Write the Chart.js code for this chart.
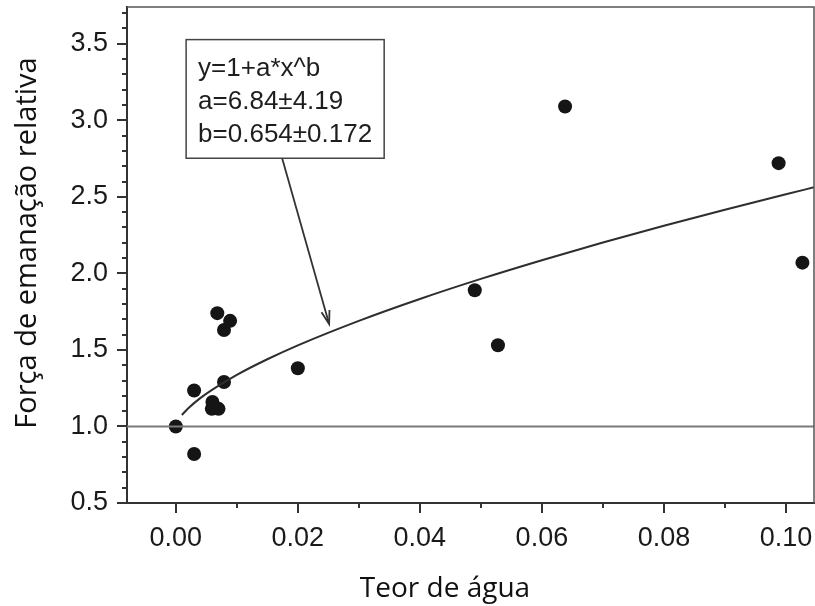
<!DOCTYPE html>
<html lang="pt">
  <head>
    <meta charset="UTF-8" />
    <title>Força de emanação relativa vs teor de água</title>
    <script src="https://cdn.jsdelivr.net/npm/chart.js"></script>
    <style>
      html, body { margin: 0; padding: 0; background: #ffffff; }
      #wrap { width: 815px; height: 606px; }
    </style>
  </head>
  <body>
    <div id="wrap"><canvas id="emanationChart" width="815" height="606"></canvas></div>

    <script>
      // measured points
      const waterContent = [0, 0.003, 0.003, 0.0059, 0.006, 0.0068, 0.007, 0.0079, 0.0079, 0.0089, 0.020, 0.049, 0.0528, 0.0638, 0.0988, 0.1027];
      const emanationPower = [1.00, 0.82, 1.235, 1.115, 1.16, 1.74, 1.115, 1.29, 1.63, 1.69, 1.38, 1.89, 1.53, 3.09, 2.72, 2.07];

      // fitted curve
      const fitX = [0.001, 0.002, 0.004, 0.006, 0.01, 0.015, 0.02, 0.03, 0.04, 0.05, 0.06, 0.07, 0.08, 0.09, 0.10, 0.1046];
      const fitY = [1.075, 1.117, 1.185, 1.241, 1.337, 1.439, 1.530, 1.690, 1.833, 1.964, 2.086, 2.202, 2.311, 2.416, 2.517, 2.562];

      // reference line y = 1
      const refX = [-0.008, 0.1046];
      const refY = [1, 1];

      // axis ticks
      const xTickValues = [0, 0.01, 0.02, 0.03, 0.04, 0.05, 0.06, 0.07, 0.08, 0.09, 0.10];
      const xTickLabels = ["0.00", "", "0.02", "", "0.04", "", "0.06", "", "0.08", "", "0.10"];
      const yTickValues = [0.5, 0.6, 0.7, 0.8, 0.9, 1.0, 1.1, 1.2, 1.3, 1.4, 1.5, 1.6, 1.7, 1.8, 1.9, 2.0, 2.1, 2.2, 2.3, 2.4, 2.5, 2.6, 2.7, 2.8, 2.9, 3.0, 3.1, 3.2, 3.3, 3.4, 3.5, 3.6, 3.7];
      const yTickLabels = ["0.5", "", "", "", "", "1.0", "", "", "", "", "1.5", "", "", "", "", "2.0", "", "", "", "", "2.5", "", "", "", "", "3.0", "", "", "", "", "3.5", "", ""];

      // fit annotation
      const fitText = ["y=1+a*x^b", "a=6.84\u00b14.19", "b=0.654\u00b10.172"];
      const boxCorners = { x0: 0.00169, y0: 3.527, x1: 0.03415, y1: 2.752 };
      const arrowFrom = { x: 0.01743, y: 2.752 };
      const arrowTo = { x: 0.02513, y: 1.669 };

      const xTitle = "Teor de água";
      const yTitle = "Força de emanação relativa";

      const toPoints = (xs, ys) => xs.map((x, i) => ({ x: x, y: ys[i] }));

      const tickFont = { family: "'Liberation Sans', Arial, sans-serif", size: 27 };

      // ticks, frame, annotation box and axis titles
      const extrasPlugin = {
        id: "extras",
        afterDraw(chart) {
          const c = chart.ctx;
          const xs = chart.scales.x;
          const ys = chart.scales.y;
          const area = chart.chartArea;
          c.save();

          // frame on top and right
          c.strokeStyle = "#555";
          c.lineWidth = 1.5;
          c.beginPath();
          c.moveTo(area.left, area.top);
          c.lineTo(area.right, area.top);
          c.lineTo(area.right, area.bottom);
          c.stroke();

          // tick marks
          c.strokeStyle = "#333";
          c.lineWidth = 2;
          xTickValues.forEach((v, i) => {
            const px = Math.round(xs.getPixelForValue(v));
            const len = xTickLabels[i] ? 10 : 5;
            c.beginPath();
            c.moveTo(px, area.bottom);
            c.lineTo(px, area.bottom + len);
            c.stroke();
          });
          yTickValues.forEach((v, i) => {
            const py = Math.round(ys.getPixelForValue(v));
            const len = yTickLabels[i] ? 10 : 5;
            c.beginPath();
            c.moveTo(area.left, py);
            c.lineTo(area.left - len, py);
            c.stroke();
          });

          // annotation box
          const bx0 = xs.getPixelForValue(boxCorners.x0);
          const by0 = ys.getPixelForValue(boxCorners.y0);
          const bx1 = xs.getPixelForValue(boxCorners.x1);
          const by1 = ys.getPixelForValue(boxCorners.y1);
          c.fillStyle = "#fff";
          c.fillRect(bx0, by0, bx1 - bx0, by1 - by0);
          c.strokeStyle = "#444";
          c.lineWidth = 1.5;
          c.strokeRect(bx0, by0, bx1 - bx0, by1 - by0);
          c.fillStyle = "#1e1e1e";
          c.font = "26px 'Liberation Sans', Arial, sans-serif";
          c.textAlign = "left";
          c.textBaseline = "alphabetic";
          fitText.forEach((t, i) => {
            c.fillText(t, bx0 + 12, by0 + 36 + i * 33);
          });

          // arrow
          const ax0 = xs.getPixelForValue(arrowFrom.x);
          const ay0 = ys.getPixelForValue(arrowFrom.y);
          const ax1 = xs.getPixelForValue(arrowTo.x);
          const ay1 = ys.getPixelForValue(arrowTo.y);
          c.strokeStyle = "#333";
          c.lineWidth = 1.8;
          c.beginPath();
          c.moveTo(ax0, ay0);
          c.lineTo(ax1, ay1);
          c.stroke();
          const ang = Math.atan2(ay1 - ay0, ax1 - ax0);
          const head = 14;
          c.beginPath();
          c.moveTo(ax1 - head * Math.cos(ang - 0.3), ay1 - head * Math.sin(ang - 0.3));
          c.lineTo(ax1, ay1);
          c.lineTo(ax1 - head * Math.cos(ang + 0.3), ay1 - head * Math.sin(ang + 0.3));
          c.stroke();

          // axis titles
          c.fillStyle = "#111";
          c.font = "28px 'Open Sans', sans-serif";
          c.textAlign = "center";
          c.fillText(xTitle, 445, 597);
          c.translate(36, 243);
          c.rotate(-Math.PI / 2);
          c.font = "29px 'Open Sans', sans-serif";
          c.fillText(yTitle, 0, 0);
          c.restore();
        },
      };

      const ctx = document.getElementById("emanationChart").getContext("2d");
      const chart = new Chart(ctx, {
        type: "scatter",
        data: {
          datasets: [
            {
              label: "ref",
              type: "line",
              data: toPoints(refX, refY),
              borderColor: "#7a7a7a",
              borderWidth: 2,
              pointRadius: 0,
              fill: false,
            },
            {
              label: "fit",
              type: "line",
              data: toPoints(fitX, fitY),
              borderColor: "#2e2e2e",
              borderWidth: 2,
              pointRadius: 0,
              cubicInterpolationMode: "monotone",
              fill: false,
            },
            {
              label: "medidas",
              data: toPoints(waterContent, emanationPower),
              backgroundColor: "#151515",
              borderWidth: 0,
              pointRadius: 7,
            },
          ],
        },
        options: {
          responsive: false,
          animation: false,
          layout: { autoPadding: false, padding: { top: 7, right: 1, left: 0, bottom: 0 } },
          plugins: {
            legend: { display: false },
            tooltip: { enabled: false },
          },
          scales: {
            x: {
              type: "linear",
              min: -0.008,
              max: 0.1046,
              grid: { display: false, drawTicks: false },
              border: { display: true, color: "#333", width: 2 },
              afterBuildTicks: (s) => { s.ticks = xTickValues.map((v) => ({ value: v })); },
              afterFit: (s) => { s.height = 103; s.paddingLeft = 0; s.paddingRight = 0; },
              ticks: {
                autoSkip: false,
                maxRotation: 0,
                padding: 19,
                color: "#1a1a1a",
                font: tickFont,
                callback: (v, i) => xTickLabels[i],
              },
            },
            y: {
              type: "linear",
              min: 0.5,
              max: 3.74,
              grid: { display: false, drawTicks: false },
              border: { display: true, color: "#333", width: 2 },
              afterBuildTicks: (s) => { s.ticks = yTickValues.map((v) => ({ value: v })); },
              afterFit: (s) => { s.width = 127; s.paddingTop = 0; s.paddingBottom = 0; },
              ticks: {
                autoSkip: false,
                padding: 19,
                color: "#1a1a1a",
                font: tickFont,
                callback: (v, i) => yTickLabels[i],
              },
            },
          },
        },
        plugins: [extrasPlugin],
      });
    </script>
  </body>
</html>
